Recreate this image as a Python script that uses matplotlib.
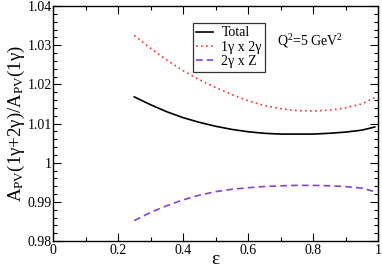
import matplotlib
matplotlib.use("Agg")
import matplotlib.pyplot as plt
from matplotlib.ticker import MultipleLocator, FuncFormatter

plt.rcParams['font.family'] = ['Liberation Serif', 'DejaVu Serif']
plt.rcParams['mathtext.fontset'] = 'custom'
plt.rcParams['mathtext.rm'] = 'Liberation Serif'
plt.rcParams['mathtext.it'] = 'Liberation Serif:italic'

eps = [0.25, 0.3, 0.35, 0.4, 0.45, 0.5, 0.55, 0.6, 0.65, 0.7, 0.75, 0.8, 0.85, 0.9, 0.95, 0.99]
total = [1.0168, 1.0148, 1.0130, 1.0115, 1.0103, 1.0093, 1.0085, 1.0079, 1.0075, 1.0073, 1.0073,
         1.0073, 1.0075, 1.0078, 1.0083, 1.0091]
g1g2 = [1.0325, 1.0292, 1.0262, 1.0235, 1.0212, 1.0192, 1.0174, 1.0158, 1.0146, 1.0138, 1.0133,
        1.0132, 1.0134, 1.0140, 1.0150, 1.0166]
g2z = [0.9852, 0.9873, 0.9890, 0.9905, 0.9917, 0.9926, 0.9932, 0.9936, 0.9939, 0.9941, 0.9942,
       0.9942, 0.9941, 0.9939, 0.9935, 0.9926]
labels = ['Total', '1γ x 2γ', '2γ x Z']

fig = plt.figure(figsize=(3.82, 2.69), dpi=100)
ax = fig.add_axes([53/382, 28/269, 325/382, 235/269])
ax.plot(eps, total, color='black', lw=1.2, label=labels[0])
ax.plot(eps, g1g2, color='#ff3030', lw=1.2, linestyle=(0, (1, 2)), label=labels[1])
ax.plot(eps, g2z, color='#8a3ee0', lw=1.2, linestyle=(0, (4, 2.5)), label=labels[2])

ax.set_xlim(0, 1)
ax.set_ylim(0.98, 1.04)
ax.xaxis.set_major_locator(MultipleLocator(0.2))
ax.xaxis.set_minor_locator(MultipleLocator(0.1))
ax.yaxis.set_major_locator(MultipleLocator(0.01))
ax.yaxis.set_minor_locator(MultipleLocator(0.002))
ax.xaxis.set_major_formatter(FuncFormatter(lambda v, p: ('%g' % round(v, 3))))
ax.yaxis.set_major_formatter(FuncFormatter(lambda v, p: ('%g' % round(v, 3))))
ax.tick_params(which='both', direction='in', top=True, right=True, labelsize=10, width=0.8)
ax.tick_params(which='major', length=6)
ax.tick_params(which='minor', length=3)
ax.tick_params(axis='x', pad=2)
ax.tick_params(axis='y', pad=1)
for s in ax.spines.values():
    s.set_linewidth(1.0)

ax.set_xlabel('ε', fontsize=14, labelpad=-4)
ax.set_ylabel(r'A$_{\mathrm{PV}}$(1γ+2γ)/A$_{\mathrm{PV}}$(1γ)', fontsize=13.5, labelpad=0)

leg = ax.legend(loc='upper left', bbox_to_anchor=((193-53)/325, (241-23)/235), fontsize=10,
                frameon=True, fancybox=False, edgecolor='black', handlelength=1.2,
                handletextpad=0.6, borderpad=0.25, labelspacing=0.1, borderaxespad=0)
leg.get_frame().set_linewidth(0.9)

ax.text(0.69, 0.83, r'Q$^2$=5 GeV$^2$', transform=ax.transAxes, fontsize=10)

fig.savefig('out.png', dpi=100)
